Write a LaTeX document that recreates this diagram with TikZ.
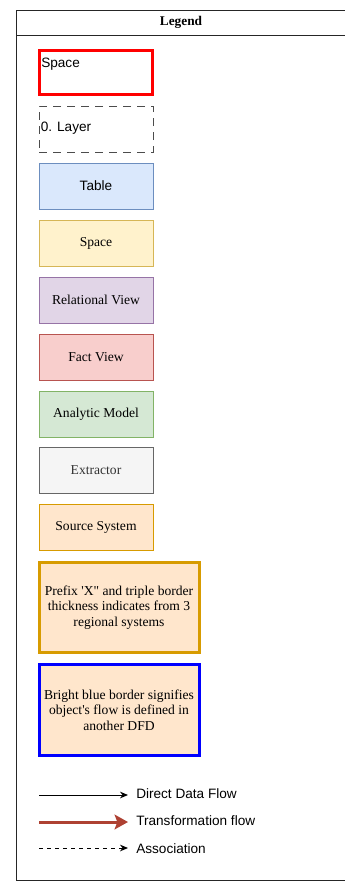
\documentclass[tikz,border=0pt]{standalone}
\usepackage{fontspec}
\setmainfont{Liberation Serif}[Ligatures=TeXOff]
\setsansfont{Liberation Sans}
\usetikzlibrary{arrows.meta}
\usetikzlibrary{positioning}

\tikzset{
  legbox/.style={draw, line width=0.75pt, minimum width=85.5pt, minimum height=34.5pt,
    inner sep=2pt, font=\fontsize{10.2}{11.8}\selectfont},
  bigbox/.style={draw, line width=2.25pt, minimum width=120pt, minimum height=68pt,
    fill=srcfill, align=center, inner sep=1pt,
    font=\fontsize{10.2}{11.6}\selectfont},
  sanstext/.style={font=\sffamily\fontsize{10.2}{11.8}\selectfont, inner sep=0pt},
  flowline/.style={line width=0.75pt}
}
\definecolor{tabfill}{HTML}{DAE8FC}\definecolor{tabdraw}{HTML}{6C8EBF}
\definecolor{spcfill}{HTML}{FFF2CC}\definecolor{spcdraw}{HTML}{D6B656}
\definecolor{relfill}{HTML}{E1D5E7}\definecolor{reldraw}{HTML}{9673A6}
\definecolor{factfill}{HTML}{F8CECC}\definecolor{factdraw}{HTML}{B85450}
\definecolor{anafill}{HTML}{D5E8D4}\definecolor{anadraw}{HTML}{82B366}
\definecolor{extfill}{HTML}{F5F5F5}\definecolor{extdraw}{HTML}{666666}
\definecolor{srcfill}{HTML}{FFE6CC}\definecolor{srcdraw}{HTML}{D79B00}
\definecolor{trfred}{HTML}{AE4132}

\begin{document}
\begin{tikzpicture}[x=0.75pt,y=-0.75pt]
      \useasboundingbox (0,0) rectangle (344,882);
      % frame and header
      \draw[line width=0.75pt, black!85] (16,10) rectangle (346,880);
      \draw[line width=0.75pt, black!85] (16,35) -- (346,35);
      \node[font=\bfseries\fontsize{10}{12}\selectfont] (title) at (181,22.5) {Legend};

      % layer boxes
      \node[draw=red, line width=2.25pt, minimum width=84.75pt, minimum height=33pt] (space) at (95.5,72) {};
      \node[sanstext, anchor=west] (spacetext) at (41,64) {Space};
      \node[draw=black!70, dash pattern=on 6pt off 4.5pt, line width=0.75pt, minimum width=85.5pt, minimum height=34.5pt] (layer) at (96,129) {};
      \node[sanstext, anchor=west] (layertext) at (40.5,128.5) {0. Layer};

      % object types
      \node[legbox, fill=tabfill, draw=tabdraw, font=\sffamily\fontsize{10.2}{11.8}\selectfont] (table) at (96,186) {Table};
      \node[legbox, fill=spcfill, draw=spcdraw] (spc) at (96,243) {Space};
      \node[legbox, fill=relfill, draw=reldraw] (relview) at (96,300) {Relational View};
      \node[legbox, fill=factfill, draw=factdraw] (factview) at (96,357) {Fact View};
      \node[legbox, fill=anafill, draw=anadraw] (anamodel) at (96,414) {Analytic Model};
      \node[legbox, fill=extfill, draw=extdraw, text=black!80] (extractor) at (96,470) {Extractor};
      \node[legbox, fill=srcfill, draw=srcdraw] (source) at (96,527) {Source System};

      % border meanings
      \node[bigbox, draw=srcdraw] (regional) at (119,607.5) {Prefix 'X" and triple border\\thickness indicates from 3\\regional systems};
      \node[bigbox, draw=blue] (otherdfd) at (119,710) {Bright blue border signifies\\object's flow is defined in\\another DFD};

      % flows
      \node[sanstext, anchor=west] (ldirect) at (136,794) {Direct Data Flow};
      \node[sanstext, anchor=west] (ltrans) at (136,821) {Transformation flow};
      \node[sanstext, anchor=west] (lassoc) at (136,849) {Association};
      \coordinate (d0) at (39,795);
      \coordinate (t0) at (39,822);
      \coordinate (a0) at (39,848);
      \draw[flowline, -{Stealth[length=6pt, width=5pt]}] (d0) -- ([xshift=-6pt]d0 -| ldirect.west);
      \draw[line width=2.25pt, trfred, -{Stealth[length=10pt, width=11pt, inset=2pt]}] (t0) -- ([xshift=-6pt]t0 -| ltrans.west);
      \draw[flowline, dashed, -{Stealth[length=6pt, width=5pt]}] (a0) -- ([xshift=-6pt]a0 -| lassoc.west);
\end{tikzpicture}
\end{document}
